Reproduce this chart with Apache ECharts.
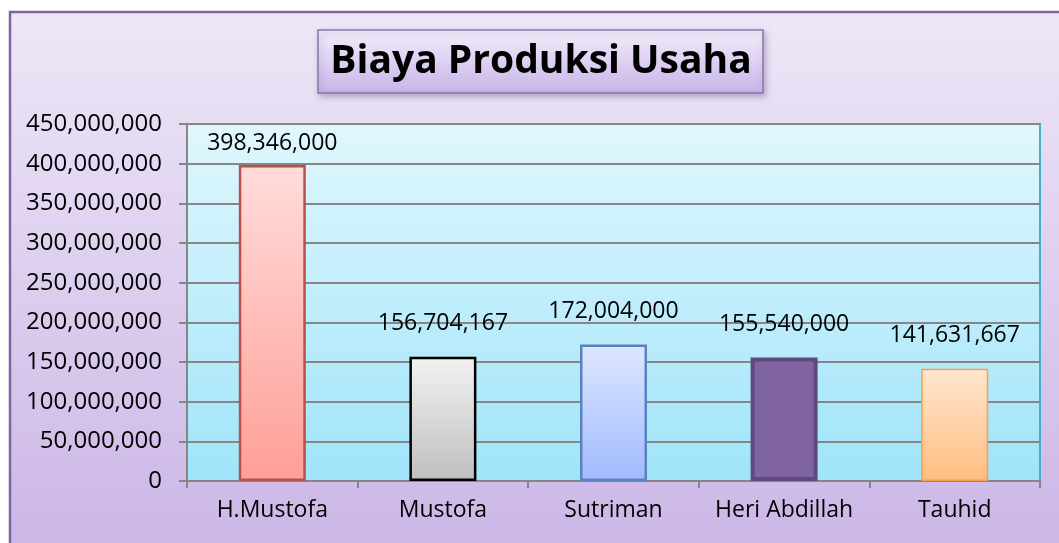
<!DOCTYPE html>
<html>
<head>
<meta charset="utf-8">
<script src="https://cdn.jsdelivr.net/npm/echarts@6/dist/echarts.min.js"></script>
<style>
  html, body { margin: 0; padding: 0; background: #fff; }
  #chart { width: 1059px; height: 543px; }
</style>
</head>
<body>
<div id="chart"></div>
<script>
var titleText = 'Biaya Produksi Usaha'
var names = ['H.Mustofa', 'Mustofa', 'Sutriman', 'Heri Abdillah', 'Tauhid']
var costs = [398346000, 156704167, 172004000, 155540000, 141631667]
var yTicks = { min: 0, max: 450000000, step: 50000000 }

// per-bar look (fill top, fill bottom, border colour, border width)
var barLooks = [
  ['#ffdcda', '#ff9f98', '#b8504c', 2.5],
  ['#f2f2f2', '#bfbfbf', '#000000', 2.5],
  ['#dde7ff', '#a2baff', '#5b82c0', 2.5],
  ['#8064a2', '#8064a2', '#5d4a7e', 4],
  ['#ffe6cf', '#ffbd80', '#f5a050', 1.5]
]

function fmt(v) {
  return String(Math.round(v)).replace(/\B(?=(\d{3})+(?!\d))/g, ',')
}

function grad(top, bottom) {
  return new echarts.graphic.LinearGradient(0, 0, 0, 1, [
    { offset: 0, color: top },
    { offset: 1, color: bottom }
  ])
}

var barData = costs.map(function (v, i) {
  var look = barLooks[i]
  return {
    value: v,
    itemStyle: {
      color: grad(look[0], look[1]),
      borderColor: look[2],
      borderWidth: look[3]
    },
    label: { distance: i === 0 ? 10 : 22 }
  }
})

var chart = echarts.init(document.getElementById('chart'))
var font = '"Open Sans", sans-serif'

chart.setOption({
  animation: false,
  graphic: [
    {
      type: 'rect',
      z: -10,
      shape: { x: 10, y: 12, width: 1060, height: 540 },
      style: { fill: grad('#eee7f7', '#cbb6e6'), stroke: '#8064a2', lineWidth: 2.5 }
    },
    {
      type: 'rect',
      z: 5,
      shape: { x: 318, y: 30, width: 445, height: 63 },
      style: {
        fill: grad('#f3eefb', '#c8b3e8'),
        stroke: '#8a76a8',
        lineWidth: 1.5,
        shadowBlur: 6,
        shadowOffsetX: 2,
        shadowOffsetY: 3,
        shadowColor: 'rgba(80,60,110,0.35)'
      }
    },
    {
      type: 'text',
      z: 10,
      x: 541,
      y: 62,
      style: {
        text: titleText,
        fontFamily: font,
        fontWeight: 'bold',
        fontSize: 39,
        fill: '#000',
        align: 'center',
        verticalAlign: 'middle'
      }
    }
  ],
  grid: {
    left: 187,
    right: 19,
    top: 124,
    bottom: 62,
    show: true,
    backgroundColor: grad('#e1f7fe', '#9fe4f9'),
    borderColor: '#4bacc6',
    borderWidth: 2
  },
  xAxis: {
    type: 'category',
    data: names,
    axisLine: { lineStyle: { color: '#868686', width: 2 } },
    axisTick: { show: true, length: 7, lineStyle: { color: '#868686', width: 2 } },
    axisLabel: { interval: 0, margin: 18, fontFamily: font, fontSize: 23, color: '#000' }
  },
  yAxis: {
    type: 'value',
    min: yTicks.min,
    max: yTicks.max,
    interval: yTicks.step,
    axisLine: { show: true, lineStyle: { color: '#868686', width: 2 } },
    axisTick: { show: true, length: 8, lineStyle: { color: '#868686', width: 2 } },
    splitLine: { lineStyle: { color: '#868686', width: 2 } },
    axisLabel: {
      margin: 25,
      fontFamily: font,
      fontSize: 24,
      color: '#000',
      formatter: function (v) { return fmt(v) }
    }
  },
  series: [{
    type: 'bar',
    data: barData,
    barWidth: 67,
    label: {
      show: true,
      position: 'top',
      fontFamily: font,
      fontSize: 23,
      color: '#000',
      formatter: function (p) { return fmt(p.value) }
    }
  }]
})
</script>
</body>
</html>
